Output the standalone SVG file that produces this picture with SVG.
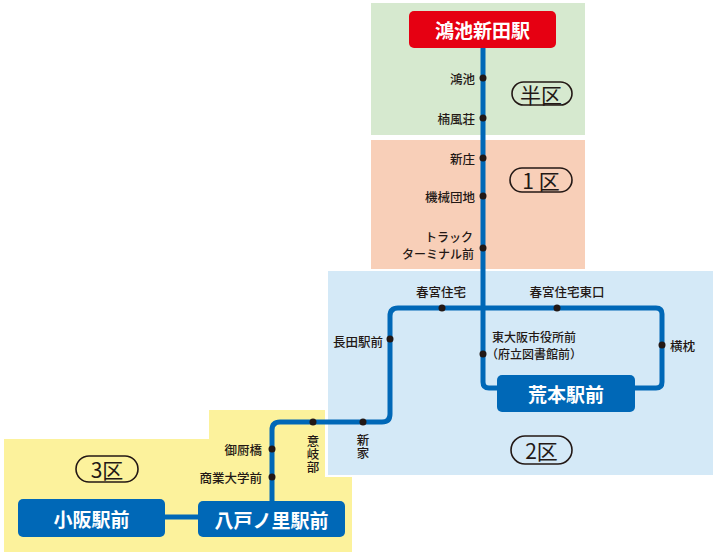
<svg xmlns="http://www.w3.org/2000/svg" width="717" height="556" viewBox="0 0 717 556">
<defs>
<style>
.lbl{font-family:"Noto Sans CJK JP","Noto Sans",sans-serif;font-size:12.5px;fill:#231815;font-weight:500}
.two{font-size:12px}
.vt{writing-mode:vertical-rl;text-anchor:start}
.st{font-family:"Noto Sans CJK JP","Noto Sans",sans-serif;font-size:19px;fill:#fff;font-weight:bold;text-anchor:middle;dominant-baseline:central}
.zone{font-family:"Noto Sans CJK JP","Noto Sans",sans-serif;font-size:21px;fill:#231815;text-anchor:middle;dominant-baseline:central}
.pill{fill:none;stroke:#231815;stroke-width:1.6}
.line{fill:none;stroke:#0068b7;stroke-width:5}
.dot{fill:#231815}
</style>
</defs>
<rect width="717" height="556" fill="#fff"/>
<g id="zones">
<rect x="371" y="3" width="214" height="132" fill="#d6e9cf"/>
<rect x="371" y="140" width="214" height="129" fill="#f8cfb8"/>
<polygon points="209,410 325,410 325,477 352,477 352,552 4,552 4,439 209,439" fill="#fcf29c"/>
<rect x="328" y="271" width="385" height="204" fill="#d4e9f7"/>
</g>
<g id="connectors">
<path class="line" d="M483,48 V382 Q483,388 489,388 H497"/>
<path class="line" d="M635,388 H656 Q662,388 662,382 V314 Q662,308 656,308 H398 Q390,308 390,316 V414 Q390,422 382,422 H280 Q272,422 272,430 V501"/>
<path class="line" d="M165,517 H198"/>
</g>
<g id="zone-labels">
<g id="zone-half"><rect class="pill" x="512" y="82" width="60" height="23" rx="11.5"/><text class="zone" x="541" y="93.5">半区</text></g>
<g id="zone-1"><rect class="pill" x="510" y="168" width="62" height="24" rx="12"/><text class="zone" x="541" y="180">1 区</text></g>
<g id="zone-2"><rect class="pill" x="511" y="436" width="61" height="28" rx="14"/><text class="zone" x="541.5" y="450">2区</text></g>
<g id="zone-3"><rect class="pill" x="76" y="456" width="62" height="26" rx="13"/><text class="zone" x="107" y="469">3区</text></g>
</g>
<g id="kounoike-shinden"><rect x="409" y="11" width="147" height="37" rx="5" fill="#e60012"/><text class="st" x="482.5" y="29.5">鴻池新田駅</text></g>
<g id="aramoto"><rect x="497" y="375" width="138" height="37" rx="5" fill="#0068b7"/><text class="st" x="566" y="393.5">荒本駅前</text></g>
<g id="yaenosato"><rect x="198" y="501" width="147" height="36" rx="5" fill="#0068b7"/><text class="st" x="271.5" y="519">八戸ノ里駅前</text></g>
<g id="kosaka"><rect x="18" y="499" width="147" height="38" rx="5" fill="#0068b7"/><text class="st" x="91.5" y="518">小阪駅前</text></g>
<g id="kounoike"><circle class="dot" cx="483" cy="78" r="3.5"/><text class="lbl" x="475" y="78" text-anchor="end" dominant-baseline="central">鴻池</text></g>
<g id="nanpuso"><circle class="dot" cx="483" cy="118" r="3.5"/><text class="lbl" x="475" y="118" text-anchor="end" dominant-baseline="central">楠風荘</text></g>
<g id="shinjo"><circle class="dot" cx="483" cy="158" r="3.5"/><text class="lbl" x="475" y="158" text-anchor="end" dominant-baseline="central">新庄</text></g>
<g id="kikai-danchi"><circle class="dot" cx="483" cy="196" r="3.5"/><text class="lbl" x="475" y="196" text-anchor="end" dominant-baseline="central">機械団地</text></g>
<g id="truck-terminal"><circle class="dot" cx="483" cy="248" r="3.5"/><text class="lbl two" x="473" y="236" text-anchor="end" dominant-baseline="central">トラック</text><text class="lbl two" x="474" y="253.5" text-anchor="end" dominant-baseline="central">ターミナル前</text></g>
<g id="harumiya"><circle class="dot" cx="442" cy="308" r="3.5"/><text class="lbl" x="441" y="291" text-anchor="middle" dominant-baseline="central">春宮住宅</text></g>
<g id="harumiya-higashi"><circle class="dot" cx="557" cy="308" r="3.5"/><text class="lbl" x="567" y="291" text-anchor="middle" dominant-baseline="central">春宮住宅東口</text></g>
<g id="nagata"><circle class="dot" cx="390" cy="339" r="3.5"/><text class="lbl" x="383" y="341" text-anchor="end" dominant-baseline="central">長田駅前</text></g>
<g id="higashiosaka-shiyakusho"><circle class="dot" cx="483" cy="354" r="3.5"/><text class="lbl two" x="492" y="336" dominant-baseline="central">東大阪市役所前</text><text class="lbl two" x="486" y="353.5" dominant-baseline="central">（府立図書館前）</text></g>
<g id="yokomakura"><circle class="dot" cx="662" cy="345" r="3.5"/><text class="lbl" x="670" y="345" dominant-baseline="central">横枕</text></g>
<g id="shinke"><circle class="dot" cx="363" cy="422" r="3.5"/><text class="lbl vt" x="363" y="434">新家</text></g>
<g id="okibe"><circle class="dot" cx="313" cy="422" r="3.5"/><text class="lbl vt" x="313" y="435" letter-spacing="0.5">意岐部</text></g>
<g id="mikuriya"><circle class="dot" cx="272" cy="449" r="3.5"/><text class="lbl" x="262" y="449" text-anchor="end" dominant-baseline="central">御厨橋</text></g>
<g id="shogyo-daigaku"><circle class="dot" cx="272" cy="477" r="3.5"/><text class="lbl" x="262" y="477" text-anchor="end" dominant-baseline="central">商業大学前</text></g>
</svg>
